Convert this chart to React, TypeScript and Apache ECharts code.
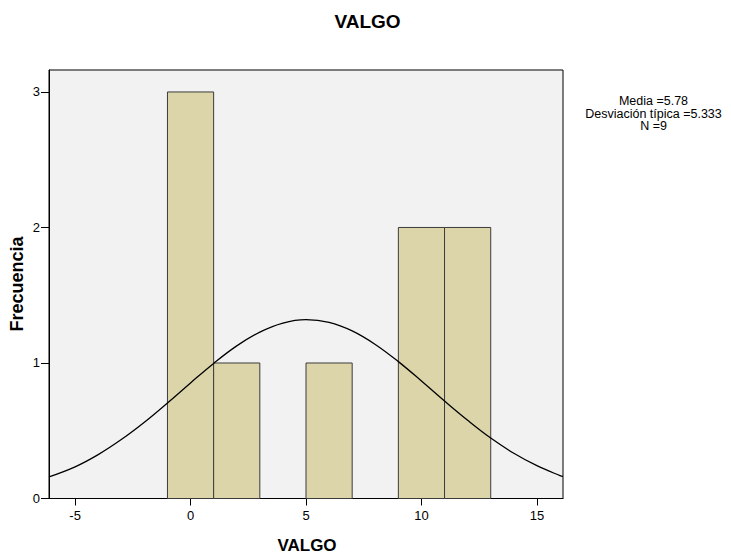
import React, { useEffect, useRef } from "react";
import * as echarts from "echarts";

// Histogram bins: [start, end] and frequency
const binStarts = [-1, 1, 5, 9, 11];
const binEnds = [1, 3, 7, 11, 13];
const frequencies = [3, 1, 1, 2, 2];

// Normal curve: x positions and heights
const curveX = [-6.13, -5, -4, -3, -2, -1, 0, 1, 2, 3, 4, 5, 6, 7, 8, 9, 10, 11, 12, 13, 14, 15, 16, 16.13];
const curveY = [0.16, 0.234, 0.324, 0.435, 0.563, 0.705, 0.853, 0.997, 1.126, 1.228, 1.295, 1.32, 1.3, 1.237, 1.137, 1.01, 0.867, 0.719, 0.577, 0.446, 0.334, 0.242, 0.169, 0.163];

const xTicks = [-5, 0, 5, 10, 15];
const yTicks = [0, 1, 2, 3];

const statLines = ["Media =5.78", "Desviación típica =5.333", "N =9"];

const titleText = "VALGO";
const xName = "VALGO";
const yName = "Frecuencia";

const FONT = "'Liberation Sans', Arial, Helvetica, sans-serif";

export default function App() {
  const ref = useRef<HTMLDivElement>(null);

  useEffect(() => {
    if (!ref.current) return;
    const chart = echarts.init(ref.current, undefined, { renderer: "svg" });

    const barData = binStarts.map((s, i) => [s, binEnds[i], frequencies[i]]);
    const curveData = curveX.map((x, i) => [x, curveY[i]]);

    const option: any = {
      animation: false,
      backgroundColor: "#ffffff",
      grid: {
        left: 49,
        right: 168,
        top: 70,
        bottom: 56.5,
        show: true,
        backgroundColor: "#f2f2f2",
        borderColor: "#000000",
        borderWidth: 1,
      },
      xAxis: {
        type: "value",
        min: -6.13,
        max: 16.13,
        splitLine: { show: false },
        axisLine: { show: true, onZero: false, lineStyle: { color: "#000", width: 1 } },
        axisTick: { show: true, length: 7, customValues: xTicks, lineStyle: { color: "#000" } },
        axisLabel: {
          customValues: xTicks,
          color: "#000",
          fontSize: 13,
          fontFamily: FONT,
          margin: 10,
        },
      },
      yAxis: {
        type: "value",
        min: 0,
        max: 3.162,
        splitLine: { show: false },
        axisLine: { show: true, onZero: false, lineStyle: { color: "#000", width: 1 } },
        axisTick: { show: true, length: 8, customValues: yTicks, lineStyle: { color: "#000" } },
        axisLabel: {
          customValues: yTicks,
          color: "#000",
          fontSize: 13,
          fontFamily: FONT,
          margin: 9,
        },
      },
      series: [
        {
          type: "custom",
          data: barData,
          renderItem: (params: any, api: any) => {
            const p0 = api.coord([api.value(0), 0]);
            const p1 = api.coord([api.value(1), api.value(2)]);
            return {
              type: "rect",
              shape: { x: p0[0], y: p1[1], width: p1[0] - p0[0], height: p0[1] - p1[1] },
              style: { fill: "#dbd5a9", stroke: "#3c3c3c", lineWidth: 1 },
            };
          },
          z: 2,
        },
        {
          type: "line",
          data: curveData,
          smooth: 0.4,
          showSymbol: false,
          symbol: "none",
          lineStyle: { color: "#000", width: 1.3 },
          z: 3,
        },
      ],
      graphic: [
        {
          type: "text",
          x: 367.5,
          y: 21.5,
          style: {
            text: titleText,
            fontSize: 19,
            fontWeight: "bold",
            fontFamily: FONT,
            fill: "#000",
            align: "center",
            verticalAlign: "middle",
          },
        },
        {
          type: "text",
          x: 307,
          y: 545,
          style: {
            text: xName,
            fontSize: 17,
            fontWeight: "bold",
            fontFamily: FONT,
            fill: "#000",
            align: "center",
            verticalAlign: "middle",
          },
        },
        {
          type: "text",
          x: 16.5,
          y: 284,
          rotation: Math.PI / 2,
          style: {
            text: yName,
            fontSize: 18,
            fontWeight: "bold",
            fontFamily: FONT,
            fill: "#000",
            align: "center",
            verticalAlign: "middle",
          },
        },
        ...statLines.map((t, i) => ({
          type: "text",
          x: 653.5,
          y: 101 + i * 12.6,
          style: {
            text: t,
            fontSize: 12.5,
            fontFamily: FONT,
            fill: "#000",
            align: "center",
            verticalAlign: "middle",
          },
        })),
      ],
    };

    chart.setOption(option);
    return () => chart.dispose();
  }, []);

  return (
    <div
      ref={ref}
      style={{ position: "fixed", left: 0, top: 0, width: 731, height: 555 }}
    />
  );
}
